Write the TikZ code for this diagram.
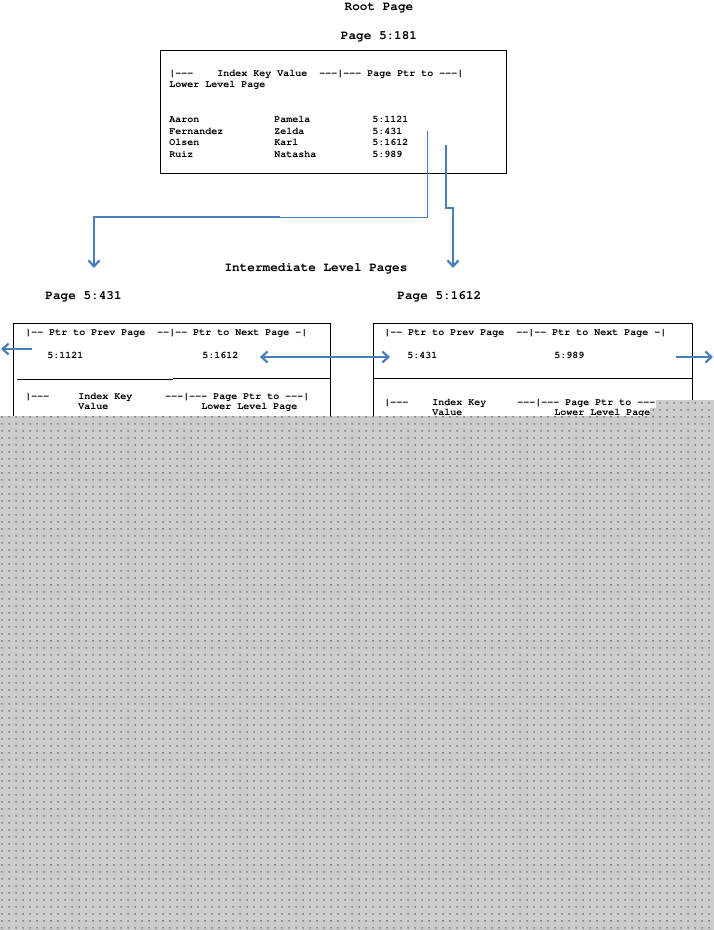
\documentclass[tikz,border=0pt]{standalone}
\usepackage[T1]{fontenc}
\renewcommand{\ttdefault}{pcr}
\usetikzlibrary{arrows.meta,patterns.meta}

\definecolor{ptrblue}{RGB}{74,126,187}

\tikzdeclarepattern{
  name=greydots,
  type=uncolored,
  bottom left={(0bp,0bp)},
  top right={(7bp,7bp)},
  tile size={(7bp,7bp)},
  code={\fill (3.5bp,3.5bp) circle (0.9bp);}
}

\begin{document}
\begin{tikzpicture}
  [x=1bp,y=-1bp
  ,line width=0.9bp
  ,cell/.style={anchor=west,inner sep=0pt,text height=7bp,text depth=2bp
               ,font=\ttfamily\bfseries\fontsize{10bp}{11bp}\selectfont}
  ,title/.style={inner sep=0pt,text height=9bp,text depth=2.5bp
                ,font=\ttfamily\bfseries\fontsize{12.7bp}{14bp}\selectfont}
  ,link/.style={draw=ptrblue,line width=2.2bp,-{Straight Barb[length=6bp,width=11bp]}}
  ,thinlink/.style={draw=ptrblue,line width=1bp}
  ]

  \useasboundingbox (0,0) rectangle (714,930);

  % Key row of the root page
  %
  % #1 - node name
  % #2 - y position
  % #3 - last name
  % #4 - first name
  % #5 - page pointer
  \newcommand{\keyrow}[5]{
    \node [cell] (#1last) at (169,#2) {#3};
    \node [cell] (#1first) at (274,#2) {#4};
    \node [cell] (#1ptr) at (372,#2) {#5};
  }

  % titles
  \node [title] (roottitle) at (379,7) {Root Page};
  \node [title] (rootpage) at (379,36) {Page 5:181};
  \node [title] (midtitle) at (316,268) {Intermediate Level Pages};
  \node [title,anchor=west] (lpagetitle) at (45,296) {Page 5:431};
  \node [title,anchor=west] (rpagetitle) at (397,296) {Page 5:1612};

  % root page
  \draw (160,50) rectangle (506,173);
  \node [cell] (roothead) at (169,74)
    {|-{}-{}-\ \ \ \ Index Key Value\ \ -{}-{}-|-{}-{}- Page Ptr to -{}-{}-|};
  \node [cell] (roothead2) at (169,85) {Lower Level Page};
  \keyrow{aaron}{120}{Aaron}{Pamela}{5:1121}
  \keyrow{fern}{131.5}{Fernandez}{Zelda}{5:431}
  \keyrow{olsen}{143}{Olsen}{Karl}{5:1612}
  \keyrow{ruiz}{154.5}{Ruiz}{Natasha}{5:989}

  % page 5:431
  \draw (13,323) -- (330,323) -- (330,600) (13,323) -- (13,600);
  \draw (17,379.5) -- (173,379.5) (173,378.5) -- (330,378.5);
  \node [cell] (lhead) at (25,333)
    {|-{}- Ptr to Prev Page\ \ -{}-|-{}- Ptr to Next Page -|};
  \node [cell] (lprev) at (47,356) {5:1121};
  \node [cell] (lnext) at (202,356) {5:1612};
  \node [cell] (lkey) at (25,397) {|-{}-{}-};
  \node [cell] (lkeyval) at (78,397) {Index Key};
  \node [cell] (lkeyval2) at (78,407) {Value};
  \node [cell] (lptr) at (165,397) {-{}-{}-|-{}-{}- Page Ptr to -{}-{}-|};
  \node [cell] (lptr2) at (201,407) {Lower Level Page};

  % page 5:1612
  \draw (373,323) -- (692,323) -- (692,600) (373,323) -- (373,600);
  \draw (373,378.5) -- (692,378.5);
  \node [cell] (rhead) at (384,333)
    {|-{}- Ptr to Prev Page\ \ -{}-|-{}- Ptr to Next Page -|};
  \node [cell] (rprev) at (407,356) {5:431};
  \node [cell] (rnext) at (554,356) {5:989};
  \node [cell] (rkey) at (384,403) {|-{}-{}-};
  \node [cell] (rkeyval) at (432,403) {Index Key};
  \node [cell] (rkeyval2) at (432,413) {Value};
  \node [cell] (rptr) at (517,403) {-{}-{}-|-{}-{}- Page Ptr to -{}-{}-};
  \node [cell] (rptr2) at (554,413) {Lower Level Page};

  % pointers from the root page
  \coordinate (tap431) at (427,131);
  \coordinate (bend431) at (280,217);
  \coordinate (to431) at (94,268);
  \draw [thinlink] (tap431) |- (bend431);
  \draw [link] (bend431) -| (to431);

  \coordinate (tap1612) at (446,145);
  \coordinate (jog1612) at (453,208);
  \coordinate (to1612) at (453,268);
  \draw [link] (tap1612) |- (jog1612) -- (to1612);

  % sibling pointers
  \coordinate (lout) at (32,349);
  \coordinate (lend) at (1,349);
  \draw [link] (lout) -- (lend);
  \draw [link,{Straight Barb[length=6bp,width=11bp]}-{Straight Barb[length=6bp,width=11bp]}]
    ([shift={(21,1)}]lnext.east) -- ([shift={(-17,1)}]rprev.west);
  \coordinate (rend) at (713,357);
  \draw [link] ([shift={(91,1)}]rnext.east) -- (rend);

  % hidden part of the page
  \fill [gray!40,postaction={pattern=greydots,pattern color=black!70}]
    (0,416) -- (650,416) -- (650,408) -- (656,408) -- (656,400)
    -- (714,400) -- (714,930) -- (0,930) -- cycle;

\end{tikzpicture}
\end{document}
